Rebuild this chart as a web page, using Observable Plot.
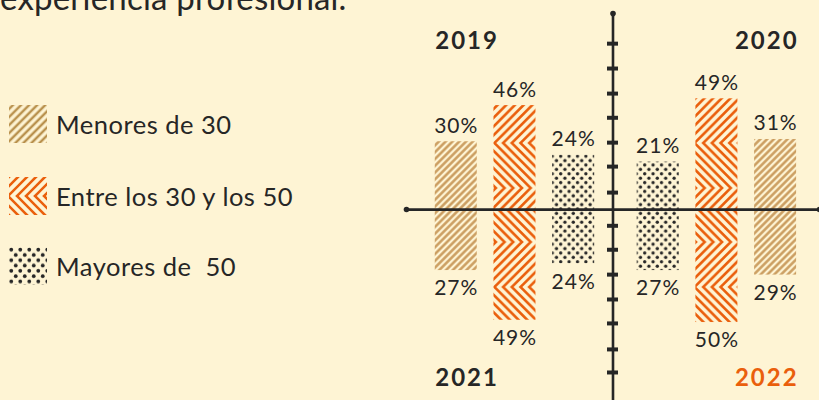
<!DOCTYPE html>
<html><head><meta charset="utf-8">
<script src="https://cdn.jsdelivr.net/npm/d3@7"></script>
<script src="https://cdn.jsdelivr.net/npm/@observablehq/plot@0.6"></script>
<style>
html,body{margin:0;padding:0;background:#fef4d4;}
body{width:819px;height:400px;overflow:hidden;position:relative;font-family:Lato,sans-serif;color:#262626;}
#title{position:absolute;left:0;top:-19px;font-size:33px;line-height:33px;white-space:nowrap;letter-spacing:0.2px;}
.leg{position:absolute;left:9px;display:flex;align-items:center;height:38px;font-size:25.5px;white-space:pre;letter-spacing:0.5px;}
.leg svg{margin-right:9px;display:block;}
#chart{position:absolute;left:0;top:0;}
</style></head><body>
<svg id="defs" width="0" height="0" style="position:absolute"></svg>
<div id="title">experiencia profesional.</div>
<div id="legend"></div>
<div id="chart"></div>
<script>
// ---- data ----
const years = ["2019", "2020", "2021", "2022"];
const categories = ["Menores de 30", "Entre los 30 y los 50", "Mayores de  50"];
const values2019 = [30, 46, 24];
const values2020 = [31, 49, 21];
const values2021 = [27, 49, 24];
const values2022 = [29, 50, 27];
const axisTicks = [73.4, 62.4, 51.3, 40.6, 29.6, 19, 7.5, -7.2, -17.8, -28.8, -39.8, -50.4, -61.9, -72.1];
const highlightYear = "2022";

// ---- styles ----
const DARK = "#262626", ORANGE = "#ea5f0c", TAN = "#c9995a", TAN_LEG = "#b9914d";

// ---- patterns ----
function stripes(id, period, sw, color) {
  return `<pattern id="${id}" width="${period}" height="${period}" patternUnits="userSpaceOnUse" patternTransform="rotate(45)">
    <line x1="${period/2}" y1="-1" x2="${period/2}" y2="${period+1}" stroke="${color}" stroke-width="${sw}"/></pattern>`;
}
// "<" vertex at y0 (+ n*H), ">" vertex at y0 + H/2 (+ n*H)
function chevrons(id, p, H, y0, sw, color) {
  let s = `<pattern id="${id}" x="0" y="${y0}" width="${p}" height="${H}" patternUnits="userSpaceOnUse">`;
  const kmax = Math.ceil((H/2 + p)/p) + 1;
  for (let k = -1; k <= kmax; k++) {
    const x = k * p;
    s += `<polyline points="${x},${-H/2} ${x - H/2},0 ${x},${H/2} ${x - H/2},${H} ${x},${1.5*H}" fill="none" stroke="${color}" stroke-width="${sw}"/>`;
  }
  return s + `</pattern>`;
}
function dots(id, w, h, r, color) {
  return `<pattern id="${id}" width="${w}" height="${h}" patternUnits="userSpaceOnUse">
    <circle cx="${w/4}" cy="${h/4}" r="${r}" fill="${color}"/>
    <circle cx="${3*w/4}" cy="${3*h/4}" r="${r}" fill="${color}"/></pattern>`;
}
document.getElementById("defs").innerHTML = "<defs>" +
  stripes("p0", 4.8, 2.4, TAN) +
  chevrons("p1up", 8.7, 90, 53, 2.6, ORANGE) +
  chevrons("p1dn", 8.7, 90, 17, 2.6, ORANGE) +
  dots("p2", 8.4, 8.8, 1.65, DARK) +
  stripes("lg0", 5.7, 2.5, TAN_LEG) +
  chevrons("lg1", 9, 38, 19, 2.6, ORANGE) +
  dots("lg2", 9, 10.6, 1.9, DARK) +
  "</defs>";

// ---- legend ----
const legTops = [105, 177, 247];
document.getElementById("legend").innerHTML = categories.map((c, i) =>
  `<div class="leg" style="top:${legTops[i]}px"><svg width="38" height="38"><rect width="38" height="38" fill="url(#lg${i})"/></svg><span>${c}</span></div>`
).join("");

// ---- chart ----
const allValues = [values2019, values2020, values2021, values2022];
const rows = years.flatMap((yr, yi) => categories.map((c, ci) => ({
  year: yr, cat: ci, value: allValues[yi][ci],
  side: yi % 2 === 0 ? -1 : 1,   // 2019/2021 left, 2020/2022 right
  dir: yi < 2 ? 1 : -1           // 2019/2020 up, 2021/2022 down
})));

const STEP = 58.7;               // px per x unit
const R = 206.5 / STEP;
const HALF = 21 / STEP;
const center = d => d.side * (0.72 + (2 - d.cat)) + 0.05;
const yTop = 86.7;
const yearY = 74.5;
const tickHalf = 5.5 / STEP;

const marks = [];
categories.forEach((c, ci) => {
  [1, -1].forEach(dir => {
    const fill = ci === 0 ? "url(#p0)" : ci === 1 ? (dir === 1 ? "url(#p1up)" : "url(#p1dn)") : "url(#p2)";
    marks.push(Plot.rect(rows.filter(d => d.cat === ci && d.dir === dir), {
      x1: d => center(d) - HALF, x2: d => center(d) + HALF,
      y1: d => 0, y2: d => d.dir * d.value, fill, inset: 0
    }));
  });
});
// axes
marks.push(Plot.ruleY([0], {x1: -R, x2: R, stroke: DARK, strokeWidth: 2.8}));
marks.push(Plot.ruleX([0], {y1: yTop, y2: -90, stroke: DARK, strokeWidth: 2.6}));
marks.push(Plot.ruleY(axisTicks, {x1: -tickHalf, x2: tickHalf, stroke: DARK, strokeWidth: 4}));
marks.push(Plot.dot([[-R, 0], [R, 0], [0, yTop]], {x: d => d[0], y: d => d[1], r: 2.8, fill: DARK, stroke: "none"}));
// value labels
marks.push(Plot.text(rows.filter(d => d.dir === 1), {
  x: center, y: d => d.value, text: d => d.value + "%", dy: -9, lineAnchor: "bottom",
  fontSize: 21, fill: DARK, fontFamily: "Lato"
}));
marks.push(Plot.text(rows.filter(d => d.dir === -1), {
  x: center, y: d => -d.value, text: d => d.value + "%", dy: 10, lineAnchor: "top",
  fontSize: 21, fill: DARK, fontFamily: "Lato"
}));
// year labels
years.forEach((yr, yi) => {
  const side = yi % 2 === 0 ? -1 : 1, dir = yi < 2 ? 1 : -1;
  const edge = side * (2.72 + HALF) + 0.05;
  marks.push(Plot.text([yr], {
    x: d => edge, y: d => dir * yearY, text: d => d,
    textAnchor: side < 0 ? "start" : "end", lineAnchor: "middle",
    fontSize: 24, fontWeight: "bold", fontFamily: "Lato",
    fill: yr === highlightYear ? ORANGE : DARK
  }));
});

const chart = Plot.plot({
  width: 819, height: 400,
  marginLeft: 406, marginRight: 0, marginTop: 0, marginBottom: 0,
  x: {domain: [-R, R], axis: null},
  y: {domain: [-84.5, 92.5], axis: null},
  style: {background: "transparent", overflow: "visible", fontFamily: "Lato"},
  marks
});
// letter spacing tweaks for a wider, geometric look
d3.select(chart).selectAll("g[font-size='21'] text").attr("letter-spacing", 1);
d3.select(chart).selectAll("g[font-weight='bold'] text").attr("letter-spacing", 2);
d3.select(chart).selectAll("g[font-weight='bold'][text-anchor='end'] text").attr("dx", 2);
document.getElementById("chart").appendChild(chart);
</script>
</body></html>
